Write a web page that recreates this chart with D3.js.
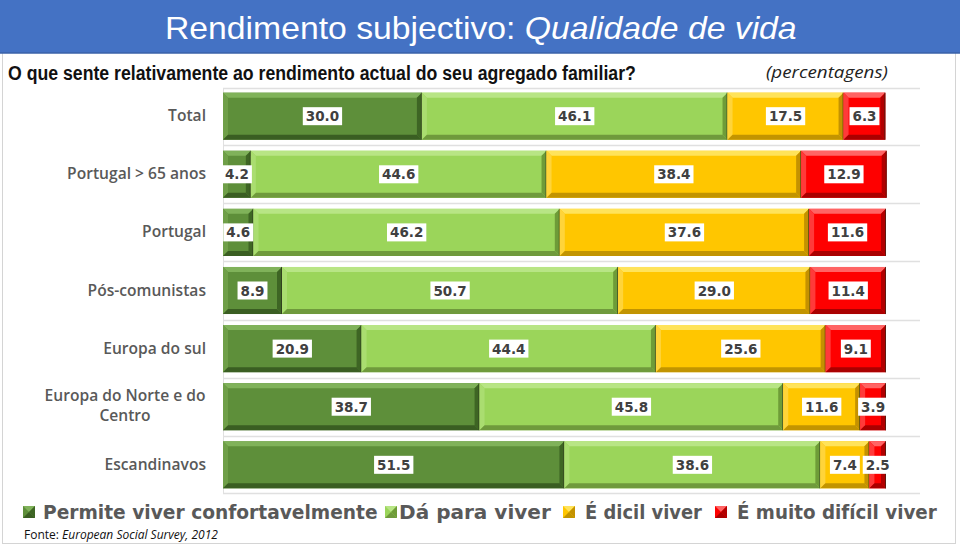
<!DOCTYPE html>
<html><head><meta charset="utf-8">
<script src="https://cdn.jsdelivr.net/npm/d3@7"></script>
<style>body{margin:0;background:#fff}svg{display:block}</style>
</head><body>
<svg id="c" width="960" height="548"></svg>
<script>
const categories = ["Total","Portugal > 65 anos","Portugal","Pós-comunistas","Europa do sul","Europa do Norte e do Centro","Escandinavos"];
const seriesNames = ["Permite viver confortavelmente","Dá para viver","É dicil viver","É muito difícil viver"];
const confortavel = [30.0,4.2,4.6,8.9,20.9,38.7,51.5];
const daParaViver = [46.1,44.6,46.2,50.7,44.4,45.8,38.6];
const dificil = [17.5,38.4,37.6,29.0,25.6,11.6,7.4];
const muitoDificil = [6.3,12.9,11.6,11.4,9.1,3.9,2.5];
const seriesValues = [confortavel,daParaViver,dificil,muitoDificil];
const colors = [
 {base:"#5e8f3a", top:"#80b25a", left:"#6f9f48", right:"#3e6524", bottom:"#3a5e22"},
 {base:"#9bd55a", top:"#b8e585", left:"#aadd70", right:"#6e9c38", bottom:"#6f9a3c"},
 {base:"#ffc600", top:"#ffe35a", left:"#ffd43a", right:"#c49200", bottom:"#c29400"},
 {base:"#fe0000", top:"#ff6464", left:"#ff3a3a", right:"#b20000", bottom:"#aa0000"}
];

const svg = d3.select("#c");
const W=960,H=548;

svg.append("rect").attr("x",2.5).attr("y",50.5).attr("width",953).attr("height",493).attr("fill","#fff").attr("stroke","#d4d4d4");
svg.append("rect").attr("x",0).attr("y",0).attr("width",W).attr("height",53).attr("fill","#4472c4");
svg.append("line").attr("x1",0).attr("x2",W).attr("y1",53).attr("y2",53).attr("stroke","#3a62a8").attr("stroke-width",1.5);

// horizontally condense text to a target width (text placed at 0,0 inside group)
function fitX(g, t, x0, y0, target){
  const w = t.node().getComputedTextLength();
  g.attr("transform",`translate(${x0},${y0}) scale(${target/w},1)`);
}

const sansN = "'Liberation Sans',Arial,sans-serif";
const tg = svg.append("g");
const title = tg.append("text").attr("x",0).attr("y",0)
  .attr("font-family",sansN).attr("font-size",32).attr("fill","#fff");
title.append("tspan").text("Rendimento subjectivo: ");
title.append("tspan").attr("font-style","italic").text("Qualidade de vida");
fitX(tg, title, 165, 39, 632);

const sg0 = svg.append("g");
const sub = sg0.append("text").attr("x",0).attr("y",0).attr("font-family",sansN)
  .attr("font-weight","bold").attr("font-size",19.5).attr("fill","#111")
  .text("O que sente relativamente ao rendimento actual do seu agregado familiar?");
fitX(sg0, sub, 8, 80, 628);

const pg = svg.append("g");
const perc = pg.append("text").attr("x",0).attr("y",0).attr("font-family","'Open Sans',sans-serif")
  .attr("font-style","italic").attr("font-size",17).attr("fill","#222").text("(percentagens)");
fitX(pg, perc, 766, 78, 122);

const x = d3.scaleLinear().domain([0,100]).range([223,886]);
const y = d3.scaleBand().domain(categories).range([88,493]).paddingInner(0.19).paddingOuter(0.08);
const bw = y.bandwidth(), step = y.step();

const gridYs = [88, ...categories.slice(0,-1).map(c=>y(c)+bw+step*0.19/2), 493];
svg.append("g").selectAll("line").data(gridYs).join("line")
  .attr("x1",223).attr("x2",920).attr("y1",d=>Math.round(d)+0.5).attr("y2",d=>Math.round(d)+0.5)
  .attr("stroke","#e0e0e0").attr("stroke-width",1.5);
svg.append("line").attr("x1",223.5).attr("x2",223.5).attr("y1",88).attr("y2",493).attr("stroke","#e0e0e0");

const table = categories.map((c,i)=>{const o={cat:c}; seriesNames.forEach((s,j)=>o[s]=seriesValues[j][i]); return o;});
const stacked = d3.stack().keys(seriesNames)(table);

const bev = 5;
stacked.forEach((layer,si)=>{
  const col = colors[si];
  const g = svg.append("g");
  layer.forEach(d=>{
    const x0=x(d[0]), x1=x(d[1]), y0=y(d.data.cat), y1=y0+bw;
    const b = Math.min(bev,(x1-x0)/2);
    const sg = g.append("g");
    sg.append("rect").attr("x",x0).attr("y",y0).attr("width",x1-x0).attr("height",bw).attr("fill",col.base);
    const poly=(pts,f)=>sg.append("polygon").attr("points",pts.map(p=>p.join(",")).join(" ")).attr("fill",f);
    poly([[x0,y0],[x1,y0],[x1-b,y0+bev],[x0+b,y0+bev]],col.top);
    poly([[x0,y0],[x0+b,y0+bev],[x0+b,y1-bev],[x0,y1]],col.left);
    poly([[x1,y0],[x1,y1],[x1-b,y1-bev],[x1-b,y0+bev]],col.right);
    poly([[x0,y1],[x0+b,y1-bev],[x1-b,y1-bev],[x1,y1]],col.bottom);
    sg.append("line").attr("x1",x1-0.5).attr("x2",x1-0.5).attr("y1",y0).attr("y2",y1).attr("stroke","#2a2a1a").attr("stroke-opacity",0.6);
  });
});

const lblFont="'DejaVu Sans',Verdana,sans-serif";
stacked.forEach((layer,si)=>{
  layer.forEach(d=>{
    const cx=(x(d[0])+x(d[1]))/2, cy=y(d.data.cat)+bw/2;
    const v=(d[1]-d[0]).toFixed(1);
    const g=svg.append("g");
    const t=g.append("text").attr("x",cx).attr("y",cy+5).attr("text-anchor","middle")
      .attr("font-family",lblFont).attr("font-weight","bold").attr("font-size",13.5).attr("fill","#404040").text(v);
    const w=t.node().getComputedTextLength()+6;
    g.insert("rect","text").attr("x",cx-w/2).attr("y",cy-9).attr("width",w).attr("height",18).attr("fill","#fff");
  });
});

// category labels
const catFont="'Open Sans',sans-serif";
const catG = svg.append("g");
const probe = catG.append("text").attr("font-family",catFont).attr("font-weight",600).attr("font-size",14).text("Portugal > 65 anos");
const catFs = 14*139/probe.node().getComputedTextLength();
probe.remove();
categories.forEach(c=>{
  const cy=y(c)+bw/2;
  if(c==="Europa do Norte e do Centro"){
    catG.append("text").attr("x",125).attr("y",cy-6).attr("text-anchor","middle").attr("font-family",catFont)
      .attr("font-size",catFs).attr("font-weight",600).attr("fill","#595959").text("Europa do Norte e do");
    catG.append("text").attr("x",125).attr("y",cy+14).attr("text-anchor","middle").attr("font-family",catFont)
      .attr("font-size",catFs).attr("font-weight",600).attr("fill","#595959").text("Centro");
  } else {
    catG.append("text").attr("x",206).attr("y",cy+5).attr("text-anchor","end").attr("font-family",catFont)
      .attr("font-size",catFs).attr("font-weight",600).attr("fill","#595959").text(c);
  }
});

// legend
const legX=[[23,43,335],[385,399,152],[563,585,117],[715,737,200]];
seriesNames.forEach((s,i)=>{
  const col=colors[i], [mx,tx,tw]=legX[i], my=506, ms=12;
  const g=svg.append("g");
  g.append("rect").attr("x",mx).attr("y",my).attr("width",ms).attr("height",ms).attr("fill",col.base);
  const c=[mx+ms/2,my+ms/2];
  g.append("polygon").attr("points",`${mx},${my} ${mx+ms},${my} ${c[0]},${c[1]}`).attr("fill",col.top);
  g.append("polygon").attr("points",`${mx+ms},${my+ms} ${mx},${my+ms} ${c[0]},${c[1]}`).attr("fill",col.bottom);
  g.append("polygon").attr("points",`${mx+ms},${my} ${mx+ms},${my+ms} ${c[0]},${c[1]}`).attr("fill",col.right);
  const lg=g.append("g");
  const t=lg.append("text").attr("x",0).attr("y",0).attr("font-family",lblFont).attr("font-weight","bold")
    .attr("font-size",19).attr("fill","#595959").text(s);
  fitX(lg,t,tx,519,tw);
});

const src=svg.append("text").attr("x",24).attr("y",539).attr("font-family","'Open Sans',sans-serif").attr("font-size",12).attr("fill","#111");
src.append("tspan").text("Fonte: ");
src.append("tspan").attr("font-style","italic").text("European Social Survey, 2012");
</script>
</body></html>
